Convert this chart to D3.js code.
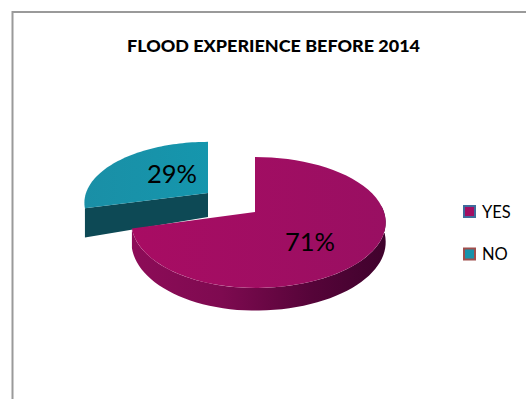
<!DOCTYPE html>
<html>
<head>
<meta charset="utf-8">
<script src="https://cdn.jsdelivr.net/npm/d3@7/dist/d3.min.js"></script>
<style>
html,body{margin:0;padding:0;background:#fff}
svg{display:block}
text{font-family:Lato,"Open Sans",sans-serif;fill:#000}
</style>
</head>
<body>
<svg id="chart" width="526" height="399"></svg>
<script>
const categories = ["YES", "NO"];
const shares = [71, 29];
const chartTitle = "FLOOD EXPERIENCE BEFORE 2014";
const topColors = ["#a20e62", "#1792ab"];
const swatchEdges = ["#3f6b9c", "#a04e4c"];

const svg = d3.select("#chart");
const defs = svg.append("defs");

// Frame: only the top and left rules fall inside the page
svg.append("path")
  .attr("d", d3.line()([[526, 12], [12.5, 12], [12.5, 399]]))
  .attr("fill", "none").attr("stroke", "#9a9a9a").attr("stroke-width", 2);

svg.append("text")
  .attr("x", 273.5).attr("y", 52)
  .attr("text-anchor", "middle")
  .attr("font-size", 16).attr("font-weight", 900)
  .attr("textLength", 293).attr("lengthAdjust", "spacingAndGlyphs")
  .text(chartTitle);

// Tilted-disc projection with perspective; the camera sits a little off-axis,
// so the disc reaches further to the right of the apex than to the left
const radiusLeft = 122, radiusRight = 129, tilt = 63.8, viewDist = 6.24;
function project(angle, r, apex, drop, squash) {
  const X = Math.sin(angle) * r, Y = -Math.cos(angle) * r;
  const s = viewDist / (viewDist - Y);
  return [apex[0] + X * (X > 0 ? radiusRight : radiusLeft) * s, apex[1] + Y * tilt * squash * s + drop * s];
}
function arcPoints(a0, a1, r, apex, drop, squash) {
  return d3.range(0, 61).map(i => project(a0 + (a1 - a0) * i / 60, r, apex, drop, squash));
}

const arcs = d3.pie().sort(null).startAngle(0).endAngle(2 * Math.PI)(shares);
const apexes = [[255, 212], [208, 193]];
const sliceSquash = [1, 0.93];
const wallDepth = 19, cutDepth = 24;
const line = d3.line();

function gradient(id, stops, x1, x2) {
  const g = defs.append("linearGradient").attr("id", id)
    .attr("gradientUnits", "userSpaceOnUse")
    .attr("x1", x1).attr("x2", x2).attr("y1", 0).attr("y2", 0);
  stops.forEach(([o, c]) => g.append("stop").attr("offset", o).attr("stop-color", c));
}
gradient("wallMain", [[0, "#8d0c58"], [0.35, "#7e0a50"], [0.7, "#560439"], [1, "#3f022c"]], 132, 387);
gradient("topMain", [[0, "#a80c63"], [1, "#990f62"]], 132, 387);
gradient("topNo", [[0, "#1a8fa6"], [1, "#1596ad"]], 83, 209);

// The NO slice sits behind the main slice, so it goes first
[1, 0].forEach(i => {
  const d = arcs[i], apex = apexes[i], q = sliceSquash[i];
  const g = svg.append("g");
  if (i === 0) {
    // Outer wall along the front of the disc
    const a0 = Math.PI / 2 - 0.1, a1 = d.endAngle;
    const outline = arcPoints(a0, a1, 1, apex, 0, q).concat(arcPoints(a1, a0, 1, apex, wallDepth, q));
    g.append("path").attr("d", line(outline) + "Z").attr("fill", "url(#wallMain)");
  } else {
    // Cut face of the pulled-out slice, from the apex to its rim
    const rim = project(d.startAngle, 1, apex, 0, q);
    const rimLow = project(d.startAngle, 1, apex, cutDepth + 4, q);
    const apexLow = [apex[0], apex[1] + cutDepth];
    g.append("path").attr("d", line([apex, rim, rimLow, apexLow]) + "Z").attr("fill", "#0d4955");
  }
  const top = [apex].concat(arcPoints(d.startAngle, d.endAngle, 1, apex, 0, q));
  g.append("path").attr("d", line(top) + "Z")
    .attr("fill", i === 0 ? "url(#topMain)" : "url(#topNo)");
});

// Value labels on the slices
const labelSpots = [[310, 251], [172, 183]];
shares.forEach((v, i) => {
  svg.append("text")
    .attr("x", labelSpots[i][0]).attr("y", labelSpots[i][1])
    .attr("text-anchor", "middle").attr("font-size", 25.5)
    .text(v + "%");
});

// Legend
const legendY = d3.scalePoint().domain(categories).range([211.5, 254]);
const legend = svg.selectAll("g.legend").data(categories).join("g")
  .attr("class", "legend")
  .attr("transform", d => `translate(463,${legendY(d)})`);
legend.append("rect")
  .attr("x", 1).attr("y", -5.5).attr("width", 11).attr("height", 11)
  .attr("fill", (d, i) => topColors[i])
  .attr("stroke", (d, i) => swatchEdges[i]).attr("stroke-width", 2);
legend.append("text")
  .attr("x", 19).attr("y", 6).attr("font-size", 16.5)
  .text(d => d);
</script>
</body>
</html>
